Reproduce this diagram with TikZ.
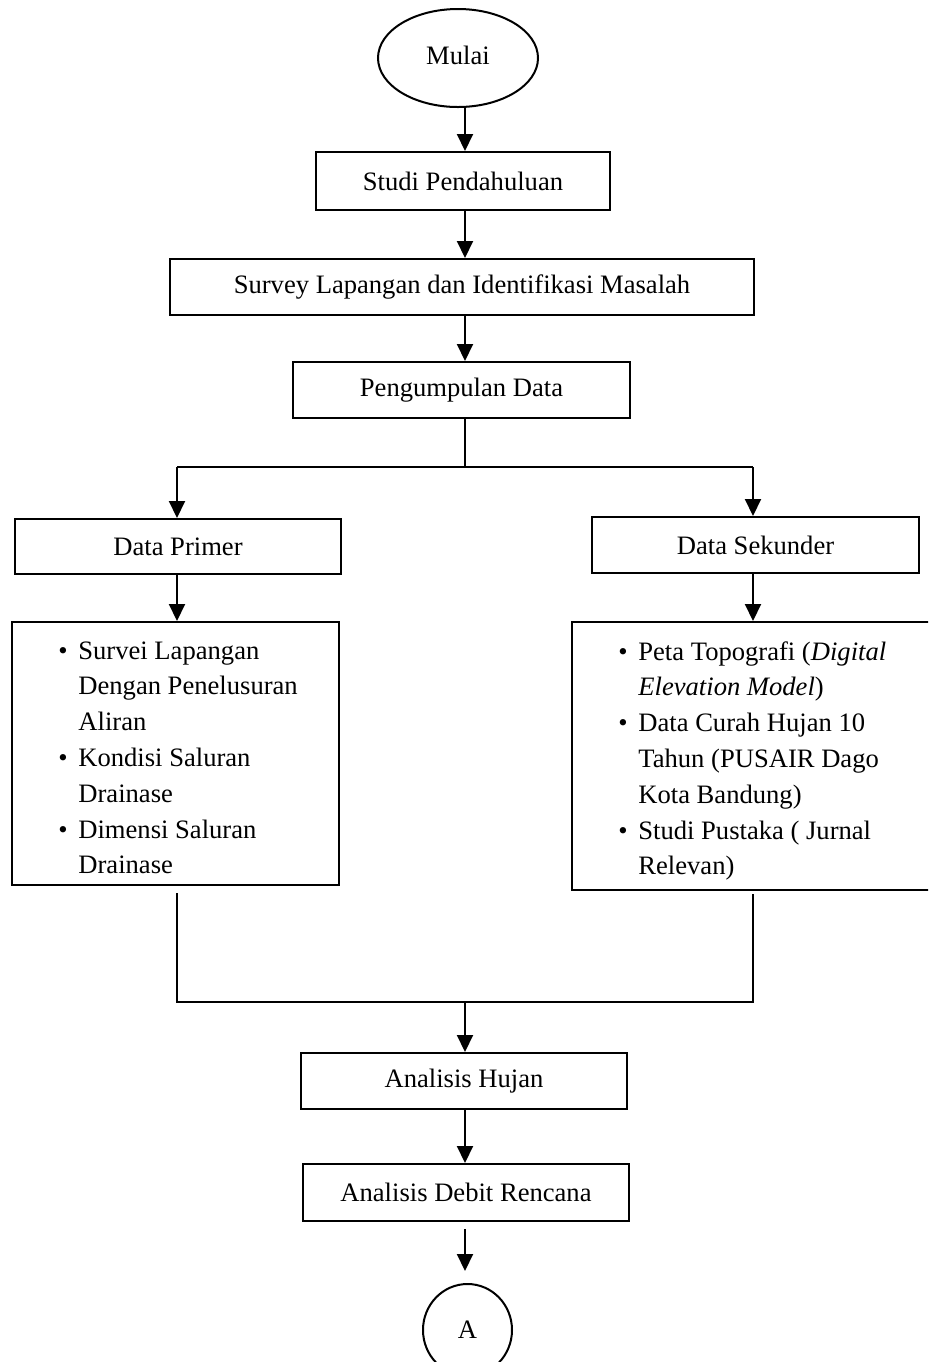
\documentclass[tikz,border=0pt]{standalone}
\usepackage{fontspec}
\setmainfont{Liberation Serif}
\usetikzlibrary{arrows.meta,shapes.geometric}
\begin{document}
\begin{tikzpicture}[x=0.5pt,y=-0.5pt,
  every node/.style={font=\fontsize{13.3pt}{17.9pt}\selectfont},
  box/.style={draw, line width=1pt, rectangle, inner sep=0pt},
  oval/.style={draw, line width=1pt, ellipse, inner sep=0pt},
  arr/.style={line width=1pt, -{Triangle[length=8.5pt,width=8pt]}},
  thinline/.style={line width=0.6pt},
  listtext/.style={anchor=north west, inner sep=0pt, align=left}]
\path[use as bounding box, clip] (0,0) rectangle (928,1362);
\fill[white] (0,0) rectangle (928,1362);
\newcommand{\bul}{\makebox[10pt][l]{\textbullet}}
\newcommand{\ind}{\hspace*{10pt}}
% nodes
\node[oval, minimum width=80pt, minimum height=49pt] (mulai) at (458,58) {\raisebox{3pt}{Mulai}};
\node[box, minimum width=147pt, minimum height=29pt] (studi) at (463,181) {Studi Pendahuluan};
\node[box, minimum width=292pt, minimum height=28pt] (survey) at (462,287) {Survey Lapangan dan Identifikasi Masalah};
\node[box, minimum width=168.5pt, minimum height=28pt] (kumpul) at (461.5,390) {Pengumpulan Data};
\node[box, minimum width=163pt, minimum height=27.5pt] (primer) at (178,546.5) {Data Primer};
\node[box, minimum width=163.5pt, minimum height=131.5pt] (plist) at (175.5,753.5) {};
\node[box, minimum width=163.5pt, minimum height=28pt] (sekunder) at (755.5,545) {Data Sekunder};
\node[box, minimum width=181pt, minimum height=134pt] (slist) at (753,756) {};
\node[listtext] (ptext) at (58,641) {\bul Survei Lapangan\\ \ind Dengan Penelusuran\\ \ind Aliran\\ \bul Kondisi Saluran\\ \ind Drainase\\ \bul Dimensi Saluran\\ \ind Drainase};
\node[listtext] (stext) at (618,641) {\bul Peta Topografi (\textit{Digital}\\ \ind \textit{Elevation Model})\\ \bul Data Curah Hujan 10\\ \ind Tahun (PUSAIR Dago\\ \ind Kota Bandung)\\ \bul Studi Pustaka ( Jurnal\\ \ind Relevan)};
\node[box, minimum width=163pt, minimum height=28pt] (hujan) at (464,1081) {Analisis Hujan};
\node[box, minimum width=163pt, minimum height=28.5pt] (debit) at (466,1192.5) {Analisis Debit Rencana};
\node[oval, minimum width=44.5pt, minimum height=46pt] (A) at (467.5,1330) {A};
% helper coordinates
\coordinate (sp) at (465,0);
\coordinate (split) at (465,467);
\coordinate (lb) at (177,467);
\coordinate (rb) at (753,467);
\coordinate (pl0) at (177,893);
\coordinate (sl0) at (753,894);
\coordinate (ml) at (177,1002);
\coordinate (mr) at (753,1002);
\coordinate (mm) at (465,1002);
% connectors
\draw[arr] (sp |- mulai.south) -- (sp |- studi.north);
\draw[arr] (sp |- studi.south) -- (sp |- survey.north);
\draw[arr] (sp |- survey.south) -- (sp |- kumpul.north);
\draw[thinline] (sp |- kumpul.south) -- (split);
\draw[thinline] (lb) -- (rb);
\draw[arr] (lb) -- (lb |- primer.north);
\draw[arr] (rb) -- (rb |- sekunder.north);
\draw[arr] (lb |- primer.south) -- (lb |- plist.north);
\draw[arr] (rb |- sekunder.south) -- (rb |- slist.north);
\draw[thinline] (pl0) -- (ml) -- (mr) -- (sl0);
\draw[arr] (mm) -- (sp |- hujan.north);
\draw[arr] (sp |- hujan.south) -- (sp |- debit.north);
\draw[arr, shorten <=3.5pt, shorten >=6pt] (sp |- debit.south) -- (sp |- A.north);
\end{tikzpicture}
\end{document}
